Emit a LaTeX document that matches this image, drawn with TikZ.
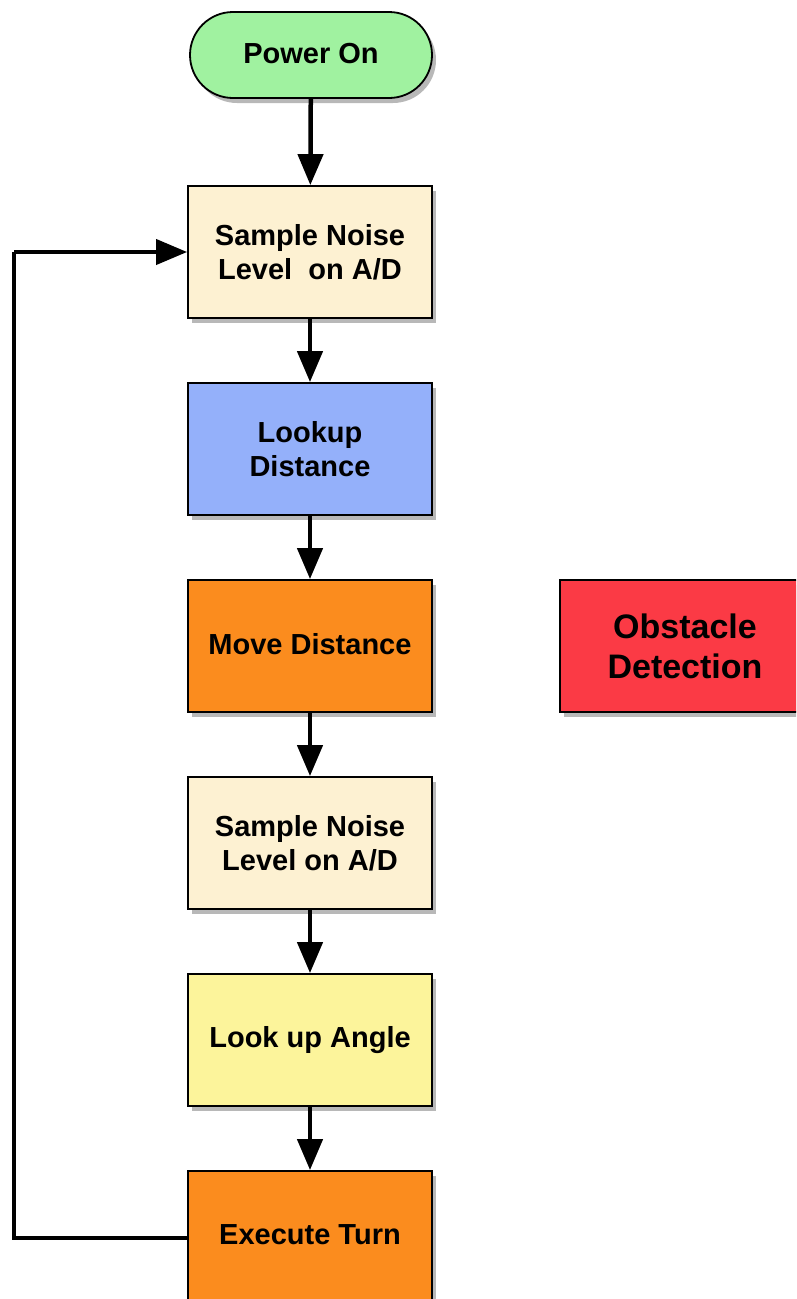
\documentclass[tikz,border=0pt]{standalone}
\usepackage{fontspec}
\setmainfont{Liberation Sans}
\usetikzlibrary{arrows.meta,shadows,positioning}

\definecolor{startgreen}{HTML}{A0F2A0}
\definecolor{samplecream}{HTML}{FDF1D2}
\definecolor{lookupblue}{HTML}{94B0FA}
\definecolor{moveorange}{HTML}{FB8C1E}
\definecolor{alertred}{HTML}{FB3A45}
\definecolor{angleyellow}{HTML}{FCF49B}

\tikzset{
  boxshadow/.style={drop shadow={shadow xshift=4pt,shadow yshift=-5pt,fill=black,opacity=0.28}},
  stepbox/.style={rectangle,draw=black,line width=1.8pt,minimum width=244pt,minimum height=132pt,
    align=center,font=\bfseries\fontsize{29}{34}\selectfont,boxshadow},
  startbox/.style={rectangle,rounded corners=43pt,draw=black,line width=1.8pt,minimum width=242pt,
    minimum height=86pt,align=center,font=\bfseries\fontsize{29}{34}\selectfont,boxshadow},
  flow/.style={line width=4.5pt,-{Triangle[width=25pt,length=31pt]}},
  loopline/.style={line width=4pt},
}

\begin{document}
\begin{tikzpicture}[x=1pt,y=-1pt]
  \useasboundingbox (0,0) rectangle (796,1299);
  \clip (0,0) rectangle (796,1299);

  % main sequence
  \node[startbox,fill=startgreen] (power) at (311,55) {\raisebox{4pt}{Power On}};
  \node[stepbox,fill=samplecream] (sample1) at (310,252) {Sample Noise\\Level\ \ on A/D};
  \node[stepbox,fill=lookupblue] (lookdist) at (310,449) {Lookup\\Distance};
  \node[stepbox,fill=moveorange] (move) at (310,646) {\raisebox{5pt}{Move Distance}};
  \node[stepbox,fill=samplecream] (sample2) at (310,843) {Sample Noise\\Level on A/D};
  \node[stepbox,fill=angleyellow] (angle) at (310,1040) {Look up Angle};
  \node[stepbox,fill=moveorange] (turn) at (310,1237) {\raisebox{4pt}{Execute Turn}};

  % interrupt handler, off to the side
  \node[stepbox,fill=alertred,minimum width=250pt,font=\bfseries\fontsize{34}{40}\selectfont]
    (obstacle) at (685,646) {Obstacle\\Detection};

  % connectors
  \draw[flow] (power) -- (sample1);
  \draw[flow] (sample1) -- (lookdist);
  \draw[flow] (lookdist) -- (move);
  \draw[flow] (move) -- (sample2);
  \draw[flow] (sample2) -- (angle);
  \draw[flow] (angle) -- (turn);

  % loop back to the first sample
  \coordinate (loopbottom) at (14,1238);
  \coordinate (looptop) at (14,252);
  \draw[loopline] (turn.west |- loopbottom) -- (loopbottom) -- (looptop);
  \draw[flow,line width=4pt] (looptop) -- (sample1.west);
\end{tikzpicture}
\end{document}
